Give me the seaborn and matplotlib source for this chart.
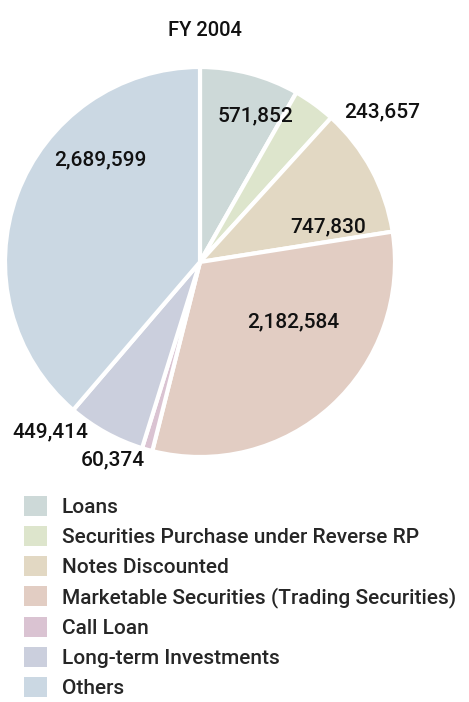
import numpy as np
import matplotlib
matplotlib.use("Agg")
from matplotlib import pyplot as plt
from matplotlib.patches import Patch
import seaborn as sns

# Data
categories = [
    "Loans",
    "Securities Purchase under Reverse RP",
    "Notes Discounted",
    "Marketable Securities (Trading Securities)",
    "Call Loan",
    "Long-term Investments",
    "Others",
]
amounts = [571852, 243657, 747830, 2182584, 60374, 449414, 2689599]
colors = ["#cdd9d8", "#dde5cc", "#e2d8c3", "#e2cdc3", "#dac3d2", "#cbcfdd", "#cbd8e3"]

# label placement (radius factor, angle shift in degrees)
label_r = [0.8, 1.21, 0.68, 0.57, 1.11, 1.16, 0.73]
label_shift = [-6, -14.5, -13, 14.8, -8, -12.5, -25.3]

sns.set_theme(style="white")
plt.rcParams["font.family"] = ["Roboto", "DejaVu Sans"]

fig = plt.figure(figsize=(4.69, 7.02), dpi=100)
ax = fig.add_axes([5 / 469, 245 / 702, 390 / 469, 390 / 702])

wedges, _ = ax.pie(
    amounts,
    colors=colors,
    startangle=90,
    counterclock=False,
    radius=1,
    wedgeprops=dict(edgecolor="white", linewidth=3),
)
ax.set_xlim(-1, 1)
ax.set_ylim(-1, 1)
ax.set_aspect("equal")

for w, v, r, sh in zip(wedges, amounts, label_r, label_shift):
    mid = np.deg2rad((w.theta1 + w.theta2) / 2 + sh)
    ax.text(r * np.cos(mid), r * np.sin(mid), f"{v:,}", ha="center", va="center",
            fontsize=15, fontweight="medium", color="#111111")

fig.text(205 / 469, 1 - 30 / 702, "FY 2004", ha="center", va="center",
         fontsize=14.5, fontweight="medium", color="#111111")

handles = [Patch(facecolor=c, edgecolor="none") for c in colors]
fig.legend(handles, categories, loc="upper left",
           bbox_to_anchor=(24 / 469, 1 - 496 / 702), frameon=False,
           prop=dict(family=["Roboto", "DejaVu Sans"], size=15, weight="medium"),
           handlelength=1.1, handleheight=1.1,
           handletextpad=0.72, labelspacing=0.43, borderpad=0, borderaxespad=0)

fig.savefig("out.png", dpi=100, facecolor="white")
